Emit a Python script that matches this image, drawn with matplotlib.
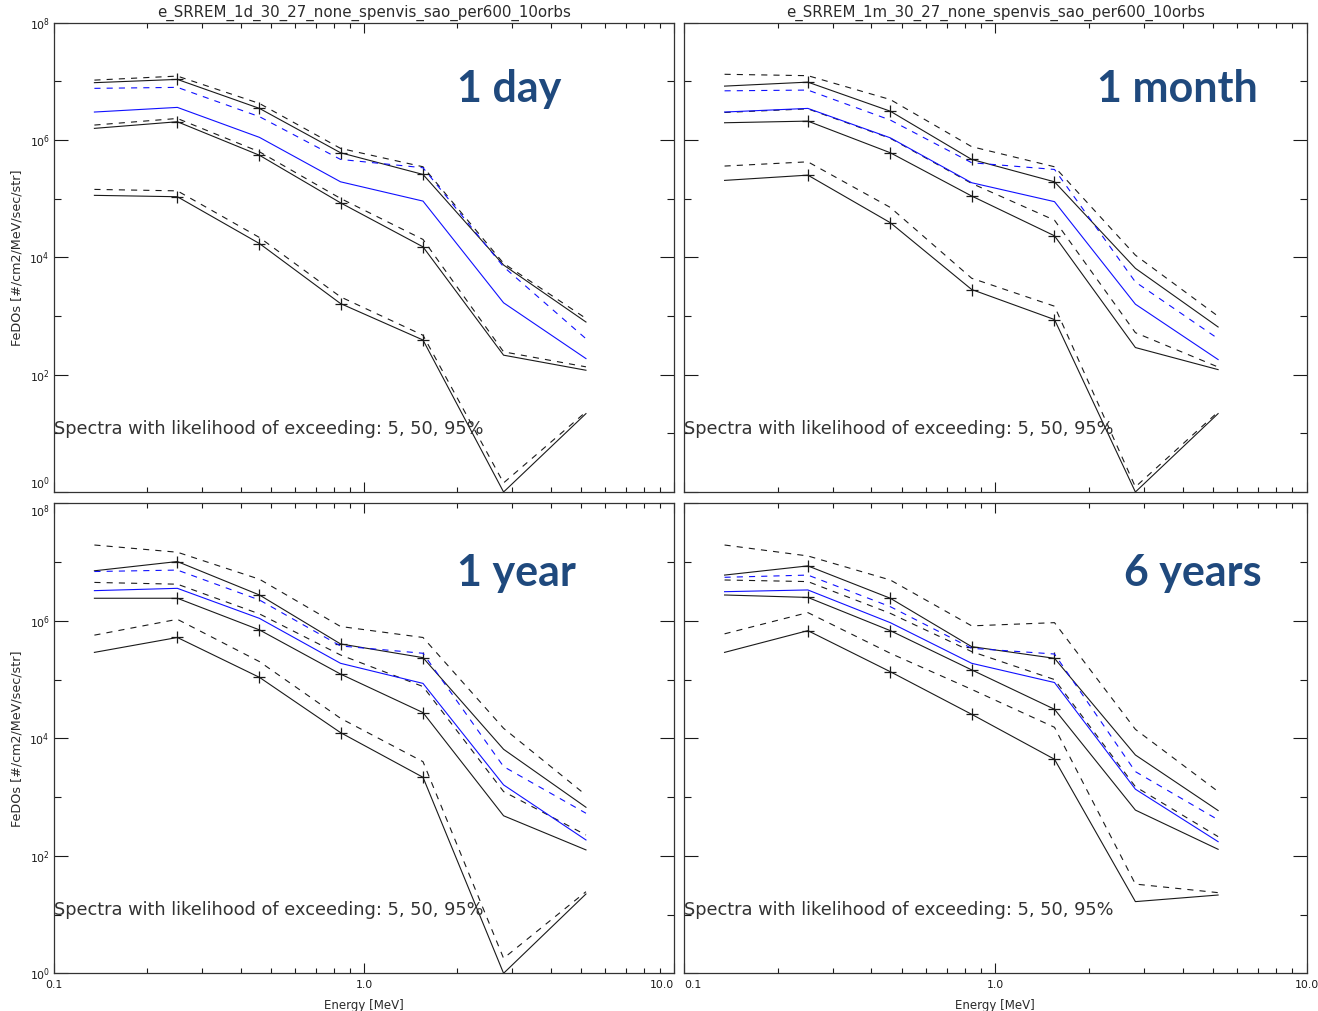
import matplotlib
matplotlib.use("Agg")
import matplotlib.pyplot as plt
from matplotlib.ticker import FixedLocator, LogLocator, NullFormatter


# ------------------------------------------------------------
#   DANE: widma FeDO dla 4 okresow (5, 50, 95 %)
# ------------------------------------------------------------
ENERGY = [0.135, 0.25, 0.46, 0.84, 1.55, 2.82, 5.2]

# 1 dzien
DAY_P5 = [9.5e6, 1.08e7, 3.46e6, 6.07e5, 2.59e5, 7.4e3, 7.9e2]
DAY_P5_ALT = [1.05e7, 1.23e7, 4.2e6, 7.2e5, 3.5e5, 7.9e3, 9.1e2]
DAY_MEAN_ALT = [7.6e6, 7.9e6, 2.5e6, 4.67e5, 3.37e5, 6.9e3, 4.1e2]
DAY_MEAN = [3.0e6, 3.6e6, 1.11e6, 1.94e5, 9.1e4, 1.68e3, 1.88e2]
DAY_P50_ALT = [1.8e6, 2.33e6, 6.3e5, 1.01e5, 2.02e4, 2.45e2, 1.36e2]
DAY_P50 = [1.58e6, 2.05e6, 5.5e5, 8.5e4, 1.51e4, 2.15e2, 1.19e2]
DAY_P95_ALT = [1.44e5, 1.36e5, 2.18e4, 2.12e3, 4.7e2, 1.43, 23.2]
DAY_P95 = [1.14e5, 1.08e5, 1.72e4, 1.63e3, 3.9e2, 1.0, 21.7]

# 1 miesiac
MONTH_P5 = [8.3e6, 9.7e6, 3.1e6, 4.67e5, 1.94e5, 6.5e3, 6.5e2]
MONTH_P5_ALT = [1.32e7, 1.25e7, 4.9e6, 7.7e5, 3.5e5, 1.09e4, 9.9e2]
MONTH_MEAN_ALT = [6.9e6, 7.1e6, 2.19e6, 4.1e5, 3.15e5, 3.8e3, 4.1e2]
MONTH_MEAN = [3.0e6, 3.46e6, 1.09e6, 1.87e5, 8.9e4, 1.59e3, 1.81e2]
MONTH_P50_ALT = [2.95e6, 3.4e6, 1.07e6, 1.82e5, 4.3e4, 5.2e2, 1.35e2]
MONTH_P50 = [1.97e6, 2.1e6, 6.07e5, 1.11e5, 2.33e4, 2.9e2, 1.22e2]
MONTH_P95_ALT = [3.6e5, 4.25e5, 7.1e4, 4.4e3, 1.47e3, 1.22, 23.2]
MONTH_P95 = [2.05e5, 2.52e5, 3.9e4, 2.83e3, 8.7e2, 1.0, 21.7]

# 1 rok
YEAR_P5 = [7.1e6, 1.02e7, 2.75e6, 4.04e5, 2.36e5, 6.5e3, 6.7e2]
YEAR_P5_ALT = [1.95e7, 1.47e7, 5.1e6, 8.0e5, 5.2e5, 1.48e4, 1.08e3]
YEAR_MEAN_ALT = [6.9e6, 7.3e6, 2.26e6, 3.73e5, 2.8e5, 3.3e3, 5.3e2]
YEAR_MEAN = [3.26e6, 3.57e6, 1.1e6, 1.89e5, 8.6e4, 1.61e3, 1.86e2]
YEAR_P50_ALT = [4.5e6, 4.2e6, 1.31e6, 2.62e5, 7.6e4, 1.24e3, 2.26e2]
YEAR_P50 = [2.42e6, 2.42e6, 7.0e5, 1.24e5, 2.74e4, 4.8e2, 1.26e2]
YEAR_P95_ALT = [5.7e5, 1.06e6, 2.02e5, 2.19e4, 4.0e3, 1.8, 24.5]
YEAR_P95 = [2.9e5, 5.2e5, 1.09e5, 1.25e4, 2.17e3, 1.0, 22.4]

# 6 lat
YEARS6_P5 = [6.0e6, 8.6e6, 2.42e6, 3.63e5, 2.3e5, 5.2e3, 5.9e2]
YEARS6_P5_ALT = [1.95e7, 1.27e7, 4.95e6, 8.2e5, 9.3e5, 1.42e4, 1.24e3]
YEARS6_MEAN_ALT = [5.5e6, 6.0e6, 1.74e6, 3.4e5, 2.72e5, 2.71e3, 4.1e2]
YEARS6_MEAN = [3.13e6, 3.35e6, 9.3e5, 1.89e5, 8.9e4, 1.36e3, 1.74e2]
YEARS6_P50_ALT = [4.95e6, 4.65e6, 1.34e6, 2.99e5, 1.0e5, 1.5e3, 2.12e2]
YEARS6_P50 = [2.75e6, 2.5e6, 6.8e5, 1.46e5, 3.12e4, 6.0e2, 1.29e2]
YEARS6_P95_ALT = [6.0e5, 1.38e6, 2.8e5, 6.8e4, 1.54e4, 33.0, 23.6]
YEARS6_P95 = [2.9e5, 6.8e5, 1.36e5, 2.56e4, 4.4e3, 16.6, 21.5]

TITLES = [
    "e_SRREM_1d_30_27_none_spenvis_sao_per600_10orbs",
    "e_SRREM_1m_30_27_none_spenvis_sao_per600_10orbs",
    "",
    "",
]
PERIOD_LABELS = ["1 day", "1 month", "1 year", "6 years"]
NOTE = "Spectra with likelihood of exceeding: 5, 50, 95%"
YLABEL = "FeDOs [#/cm2/MeV/sec/str]"
XLABEL = "Energy [MeV]"
XTICK_LABELS = ["0.1", "1.0", "10.0"]
YTICK_LABELS = [r"$10^{0}$", r"$10^{2}$", r"$10^{4}$", r"$10^{6}$", r"$10^{8}$"]


# ------------------------------------------------------------
#   UKLAD
# ------------------------------------------------------------
W, H = 1318, 1011
LINE_COL = "#1a1a1a"
TEXT_COL = "#2a2a2a"
BLUE = "#1010ff"
LABEL_COL = "#1f497d"
DASH = (0, (5.5, 5.5))

# (lewo, gora, prawo, dol) w pikselach
BOXES = [
    (54, 22.7, 674, 492),
    (684, 22.7, 1306.5, 492),
    (54, 503.3, 674, 973.3),
    (684, 503.3, 1306.5, 973.3),
]

# polozenie napisu okresu: x, linia bazowa, wyrownanie
LABEL_POS = [
    (457, 102, "left"),
    (1258, 102, "right"),
    (457, 586, "left"),
    (1262, 586, "right"),
]

plt.rcParams["font.family"] = ["DejaVu Sans"]


def draw_panel(fig, idx, series):
    l, t, r, b = BOXES[idx]
    ax = fig.add_axes([l / W, 1 - b / H, (r - l) / W, (b - t) / H])

    p5, p5a, mna, mn, p50a, p50, p95a, p95 = series

    # czarne: przerywane i ciagle, krzyzyki na punktach 1..4
    for ys in (p5a, p50a, p95a):
        ax.plot(ENERGY, ys, color=LINE_COL, lw=0.8, linestyle=DASH)
    for ys in (p5, p50, p95):
        ax.plot(ENERGY, ys, color=LINE_COL, lw=0.8,
                marker="+", markersize=9, markeredgewidth=0.9,
                markevery=[1, 2, 3, 4])
    # niebieskie na wierzchu
    ax.plot(ENERGY, mna, color=BLUE, lw=0.8, linestyle=DASH)
    ax.plot(ENERGY, mn, color=BLUE, lw=0.8)

    ax.set_xscale("log")
    ax.set_yscale("log")
    ax.set_xlim(0.1, 10)
    ax.set_ylim(1, 1e8)

    ax.xaxis.set_major_locator(FixedLocator([0.1, 1, 10]))
    ax.xaxis.set_minor_locator(LogLocator(base=10, subs=range(2, 10)))
    ax.xaxis.set_minor_formatter(NullFormatter())
    ax.yaxis.set_major_locator(FixedLocator([1, 1e2, 1e4, 1e6, 1e8]))
    ax.yaxis.set_minor_locator(FixedLocator([10, 1e3, 1e5, 1e7]))
    ax.yaxis.set_minor_formatter(NullFormatter())

    ax.tick_params(which="both", direction="in", top=True, right=True,
                   width=0.8, colors=LINE_COL, labelsize=7.8)
    ax.tick_params(axis="y", which="major", length=10, pad=3)
    ax.tick_params(axis="y", which="minor", length=5)
    ax.tick_params(axis="x", which="major", length=7, pad=5)
    ax.tick_params(axis="x", which="minor", length=3.6)

    for sp in ax.spines.values():
        sp.set_linewidth(0.9)
        sp.set_color("#333333")

    left_col = idx in (0, 2)
    bottom_row = idx in (2, 3)

    if left_col:
        ax.set_yticks([1, 1e2, 1e4, 1e6, 1e8])
        ax.set_yticklabels(YTICK_LABELS)
        labels = ax.get_yticklabels()
        # skrajne etykiety odsuniete do srodka panelu
        if bottom_row:
            labels[-1].set_va("top")
        else:
            labels[0].set_va("bottom")
        ax.set_ylabel(YLABEL, fontsize=9.2, color=TEXT_COL)
        ax.yaxis.set_label_coords(-0.05, 0.5)
    else:
        ax.set_yticklabels([])

    if bottom_row:
        ax.set_xticklabels(XTICK_LABELS)
        xl = ax.get_xticklabels()
        if left_col:
            xl[-1].set_ha("right")
        else:
            xl[0].set_ha("left")
        ax.set_xlabel(XLABEL, fontsize=8.5, color=TEXT_COL)
        ax.xaxis.set_label_coords(0.5, -0.055)
    else:
        ax.set_xticklabels([])

    if TITLES[idx]:
        ax.set_title(TITLES[idx], fontsize=10.8, color=TEXT_COL, pad=4)

    ax.text(0.0, 0.134, NOTE, transform=ax.transAxes, fontsize=12.8,
            color="#333333", ha="left", va="center")

    x, base, ha = LABEL_POS[idx]
    fig.text(x / W, 1 - base / H, PERIOD_LABELS[idx], fontsize=31,
             family=["Lato", "DejaVu Sans"], fontweight="bold",
             color=LABEL_COL, ha=ha, va="baseline")


if __name__ == "__main__":
    fig = plt.figure(figsize=(W / 100, H / 100), dpi=100)
    fig.patch.set_facecolor("white")

    panels = [
        (DAY_P5, DAY_P5_ALT, DAY_MEAN_ALT, DAY_MEAN,
         DAY_P50_ALT, DAY_P50, DAY_P95_ALT, DAY_P95),
        (MONTH_P5, MONTH_P5_ALT, MONTH_MEAN_ALT, MONTH_MEAN,
         MONTH_P50_ALT, MONTH_P50, MONTH_P95_ALT, MONTH_P95),
        (YEAR_P5, YEAR_P5_ALT, YEAR_MEAN_ALT, YEAR_MEAN,
         YEAR_P50_ALT, YEAR_P50, YEAR_P95_ALT, YEAR_P95),
        (YEARS6_P5, YEARS6_P5_ALT, YEARS6_MEAN_ALT, YEARS6_MEAN,
         YEARS6_P50_ALT, YEARS6_P50, YEARS6_P95_ALT, YEARS6_P95),
    ]
    for i, series in enumerate(panels):
        draw_panel(fig, i, series)

    fig.savefig("out.png", dpi=100, facecolor="white")
